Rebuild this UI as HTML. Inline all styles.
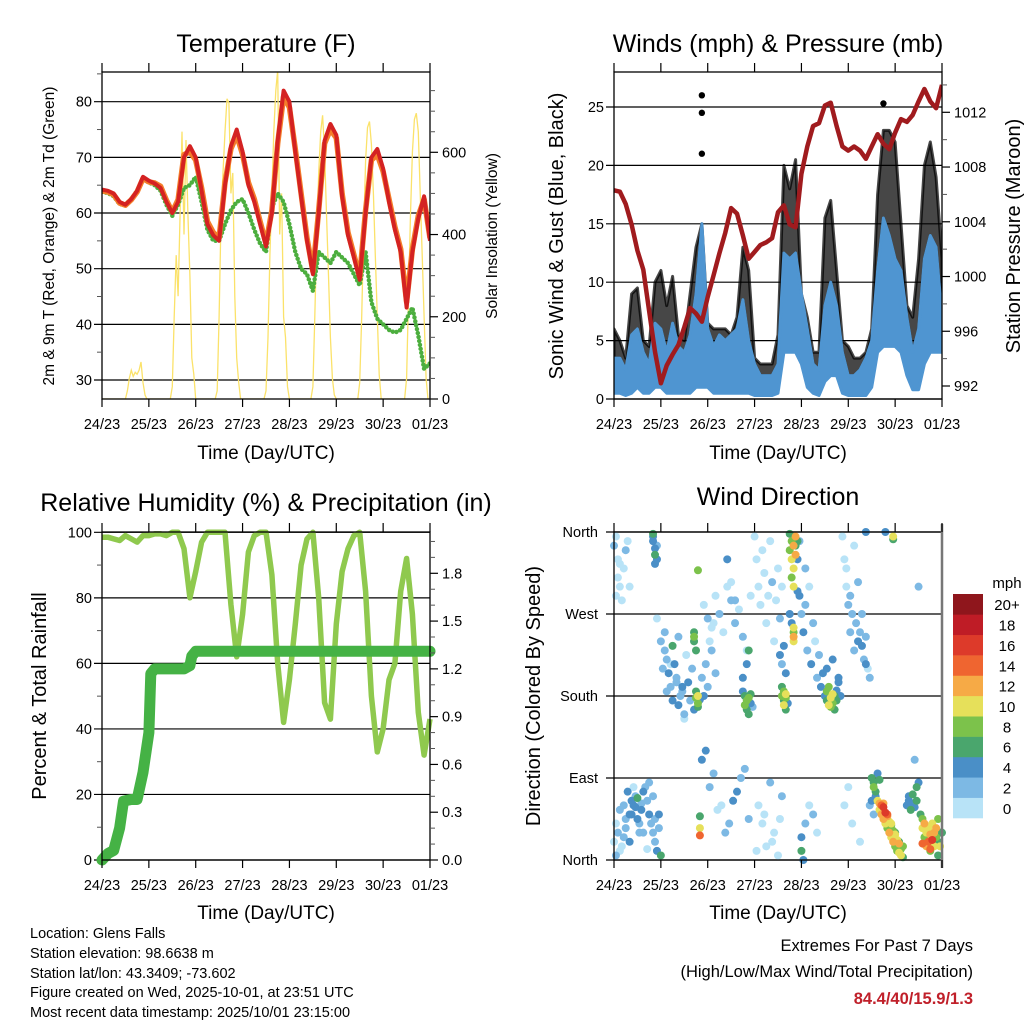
<!DOCTYPE html>
<html><head><meta charset="utf-8"><style>
html,body{margin:0;padding:0;background:#fff}
svg{display:block;font-family:"Liberation Sans",sans-serif}
</style></head><body>
<svg id="fig" width="1024" height="1024" viewBox="0 0 1024 1024" xmlns="http://www.w3.org/2000/svg">
<rect width="1024" height="1024" fill="#fff"/>
<g id="g-temp"></g>
<g id="g-wind"></g>
<g id="g-rh"></g>
<g id="g-dir"></g>
<text x="266" y="52" font-size="25" text-anchor="middle">Temperature (F)</text>
<text x="778" y="52" font-size="25" text-anchor="middle">Winds (mph) &amp; Pressure (mb)</text>
<text x="266" y="511" font-size="25" text-anchor="middle">Relative Humidity (%) &amp; Precipitation (in)</text>
<text x="778" y="505" font-size="25" text-anchor="middle">Wind Direction</text>
<text x="266" y="459" font-size="19" text-anchor="middle">Time (Day/UTC)</text>
<text x="778" y="459" font-size="19" text-anchor="middle">Time (Day/UTC)</text>
<text x="266" y="919" font-size="19" text-anchor="middle">Time (Day/UTC)</text>
<text x="778" y="919" font-size="19" text-anchor="middle">Time (Day/UTC)</text>
<text transform="translate(54,236) rotate(-90)" font-size="15.5" text-anchor="middle">2m &amp; 9m T (Red, Orange) &amp; 2m Td (Green)</text>
<text transform="translate(497,236) rotate(-90)" font-size="15.5" text-anchor="middle">Solar Insolation (Yellow)</text>
<text transform="translate(563,236) rotate(-90)" font-size="20" text-anchor="middle">Sonic Wind &amp; Gust (Blue, Black)</text>
<text transform="translate(1020,236) rotate(-90)" font-size="20" text-anchor="middle">Station Pressure (Maroon)</text>
<text transform="translate(46,696) rotate(-90)" font-size="20" text-anchor="middle">Percent &amp; Total Rainfall</text>
<text transform="translate(540,696) rotate(-90)" font-size="20" text-anchor="middle">Direction (Colored By Speed)</text>
<g font-size="14.5">
<text x="30" y="938">Location: Glens Falls</text>
<text x="30" y="958">Station elevation: 98.6638 m</text>
<text x="30" y="978">Station lat/lon: 43.3409; -73.602</text>
<text x="30" y="997">Figure created on Wed, 2025-10-01, at 23:51 UTC</text>
<text x="30" y="1017">Most recent data timestamp: 2025/10/01 23:15:00</text>
</g>
<g font-size="16.5" text-anchor="end">
<text x="973" y="951">Extremes For Past 7 Days</text>
<text x="973" y="977">(High/Low/Max Wind/Total Precipitation)</text>
<text x="973" y="1004" fill="#c0202a" font-weight="bold">84.4/40/15.9/1.3</text>
</g>
</svg>
<script>
// ---- data (3-hourly unless noted) ----
const hours3 = [0,3,6,9,12,15,18,21,24,27,30,33,36,39,42,45,48,51,54,57,60,63,66,69,72,75,78,81,84,87,90,93,96,99,102,105,108,111,114,117,120,123,126,129,132,135,138,141,144,147,150,153,156,159,162,165,168];
const tempRed = [64.2,64,63.5,62,61.5,62.5,64,66.5,65.8,65.3,64.5,62,60,62,70,72,70,64,58,56,55,65,72,75,71,65,62,58,54,60,73,82,80,71,63,55,49,60,73,76,74,63,56,52,48,60,70,71.5,68,62,57,53,43,53,59,63,55];
const tempOrange = [64,63.8,63.3,61.8,61.4,62.4,63.8,66.2,65.6,65.4,64.8,62.3,60.2,62.4,70.5,71,69.5,64.5,58.5,56.5,55.5,65.5,71.5,74,70.5,65.5,62.5,58.5,54.5,60.5,72.5,81,79,71.5,63.5,55.5,49.5,60.5,72.5,75,73.5,63.5,56.5,52.5,48.5,60.5,69.5,70.5,67.5,62.5,57.5,53.5,44,53.5,59.5,62.5,55.5];
const dewGreen = [63.8,63.6,63,61.6,61.5,62.5,64,66,65.5,65,64,61.5,59.5,61.5,64.5,65,66.5,62,57,55,55,58,60.5,62,62.5,60,57,54.5,53,61,63.5,62,58,53,50,49,46,53,52,51,53,52,51,49,47,53,44,41,40,39,38.5,39,41,43,38,32,33];
const solarHourly = [0,0,0,0,0,0,0,0,0,0,0,0,0,20,50,70,55,65,60,70,90,40,10,0,
0,0,0,0,0,0,0,0,0,0,0,0,30,200,350,250,450,650,400,630,450,300,100,60,0,
0,0,0,0,0,0,0,0,0,0,20,200,450,550,650,730,720,500,550,250,100,40,0,
0,0,0,0,0,0,0,0,0,0,0,0,20,150,350,500,650,750,800,400,500,200,150,30,0,
0,0,0,0,0,0,0,0,0,0,0,30,200,400,550,650,690,600,450,300,150,50,10,0,
0,0,0,0,0,0,0,0,0,0,0,40,200,400,580,660,675,620,500,350,200,60,0,
0,0,0,0,0,0,0,0,0,0,0,0,50,250,450,600,680,695,650,500,350,200,50,0,0];
const windLo = [0.5,0.5,0.3,0.5,1,0.5,0.5,1,1,0.5,0.5,0.5,0.5,0.5,1,1,1,0.5,0.5,0.5,0.5,0.5,0.5,0.5,0.3,0.3,0.3,0.3,0.5,4,4,4,3,1,0.5,0.3,1.5,2,2,0.5,0.3,0.3,0.3,0.3,1,4,4.5,4.5,4.5,4,2,0.8,0.8,3,4,4,4];
const windHi = [3.5,3.5,2.5,5.5,6,4,3,6.5,6,4,6.5,4.5,4,5.5,9,15,6,4.5,5.5,5,5.5,6,8.5,5,3,2,2,2,3,12.5,12,12.5,9,6,3,2.5,8,10,8,4,2,2,2.5,3.5,5,11,15.5,14,12,11,7,4,6,12,14,13,7];
const gustHi = [6,5,3.5,9,9.5,5,4.5,10,11,8,10.5,5.5,5,9,13,15,6.5,6,6,6,5.5,7,13,11,3.5,3,3,3,5.5,20,18,20.5,9,7,4,4,15.5,17,11,5,4.5,3.5,3.5,4,6,17.5,23,23,22,15,8,7,12,20,22,19,12];
const gustOutH = [45,45,45,138];
const gustOutV = [26,24.5,21,25.3];
const pressure = [1006.3,1006.2,1005.3,1003.8,1001.9,1000.5,997.5,994.5,992.2,993.5,994.3,995,996.3,997.7,997.3,996.7,998.5,1000.1,1001.7,1003.2,1005,1004.6,1003,1001.3,1001.8,1002.3,1002.5,1002.8,1004.7,1005.2,1003.8,1003.6,1007.5,1009.5,1011,1011.2,1012.5,1012.7,1011,1009.5,1009.2,1009.5,1009.2,1008.6,1009.5,1010.4,1009.7,1009.3,1010.5,1011.5,1011.3,1011.8,1012.8,1013.7,1012.8,1012.3,1014];
const rh = [98.5,98.5,98,97.5,99,98,97,99,99,99.5,99.5,99,100,100,95,80,88,97,100,100,100,100,78,62,75,94,99,100,100,87,60,42,55,72,90,98,100,80,48,43,72,88,95,99,100,82,50,33,40,55,60,82,92,75,45,32,43];
const precipH = [0,3,6,9,11,15,18,21,24,25,27,42,45,46,48,168];
const precipIn = [0,0.04,0.06,0.2,0.37,0.38,0.38,0.55,0.8,1.17,1.2,1.2,1.22,1.28,1.31,1.31];
const dirHour = [0,1,2,2,3,4,5,6,7,8,1,3,
0,1,1,2,3,4,5,6,7,8,9,10,11,12,13,14,15,16,17,18,19,20,21,22,23,24,3,6,9,12,15,18,21,5,8,11,14,17,20,23,10,13,
20,20,21,21,22,22,21,20,
22,24,25,26,27,28,29,30,31,32,33,34,35,36,37,38,39,40,41,45,46,47,48,49,50,51,52,27,30,33,36,26,29,32,35,
42,42,43,43,43,44,41,41,41,42,43,44,44,44,
46,48,50,52,54,56,58,60,62,64,66,68,70,47,51,55,59,63,67,45,49,53,57,61,65,69,58,60,62,
66,67,67,68,68,69,69,70,70,66,71,68,69,
72,73,74,75,76,77,78,79,80,81,82,83,84,85,86,74,76,78,80,82,84,86,73,77,81,85,
86,86,87,87,87,88,88,88,89,85,86,87,88,
90,90,91,91,91,92,92,92,93,93,93,94,94,90,91,92,92,92,92,94,
95,96,97,98,99,100,101,102,103,104,105,106,107,96,96,97,98,100,102,104,95,98,
108,109,109,110,110,111,111,112,112,113,113,114,114,115,116,109,112,115,
117,118,119,120,121,122,123,124,125,126,127,128,129,130,119,121,123,125,127,129,131,118,122,126,120,
132,133,133,134,134,132,131,133,135,136,129,
135,136,136,137,137,138,138,139,139,140,140,141,141,142,142,143,143,144,144,145,145,146,146,147,147,148,148,138,140,142,144,146,
150,151,152,153,154,155,151,153,155,156,154,156,
157,158,158,159,159,160,160,161,161,162,162,163,163,164,164,165,165,166,166,167,167,168,158,162,166,
139,143,143];
const dirDeg = [345,355,330,310,300,285,320,340,350,300,290,325,
20,5,40,30,55,15,60,45,75,50,65,60,70,45,40,55,30,80,65,50,40,70,20,10,35,5,10,35,50,68,75,85,45,25,20,58,62,12,30,50,80,30,
358,350,342,335,330,345,325,355,
265,240,210,230,220,205,190,235,215,200,170,180,190,160,225,195,175,210,165,200,180,215,190,240,230,260,205,185,175,245,155,250,215,195,185,
185,178,180,172,168,176,250,245,240,230,318,27,35,48,
280,265,255,290,270,250,300,285,260,275,245,230,290,120,95,60,40,75,100,110,80,55,30,65,90,45,330,305,285,
185,180,170,175,165,178,160,172,182,200,168,215,230,
355,330,300,280,340,315,260,290,350,305,240,285,320,265,300,60,40,15,85,30,5,70,10,50,20,45,
190,180,175,185,170,178,165,182,172,225,215,235,205,
358,340,350,330,310,345,320,300,355,335,345,350,330,270,260,255,245,240,250,295,
290,270,250,280,230,300,215,260,240,200,225,190,205,10,25,0,40,60,50,30,350,320,
180,175,185,170,190,178,168,182,172,180,165,186,175,195,180,210,220,200,
355,330,300,280,250,270,230,260,240,250,235,220,245,210,320,290,345,305,270,215,200,60,40,20,80,
90,85,80,75,70,65,60,50,95,88,360,
65,62,55,60,50,58,45,52,40,48,35,42,30,38,25,32,20,28,15,22,10,18,8,12,5,15,3,62,50,40,30,20,
60,65,55,62,58,65,70,72,80,85,110,300,
50,45,35,40,25,30,15,35,20,28,10,40,22,30,15,25,35,20,45,30,15,30,18,12,5,
360,355,352];
const dirSpd = [3,1,1,1,1,1,1,2,1,1,1,1,
1,2,1,2,2,1,3,2,4,4,5,4,3,4,2,4,3,2,3,4,2,3,2,4,3,6,1,2,4,6,4,2,3,3,4,4,3,1,2,4,1,2,
6,4,5,6,4,3,4,5,
1,2,3,2,3,4,3,6,5,2,4,3,4,2,1,4,3,2,4,3,4,2,3,1,2,1,2,3,4,2,1,3,1,2,3,
6,8,10,8,6,4,6,8,6,6,8,14,10,6,
1,2,1,1,2,1,1,2,3,1,2,1,1,4,3,1,2,4,3,4,3,1,2,4,3,2,4,1,2,
4,6,8,8,6,8,6,4,6,4,2,4,6,
1,1,1,0,1,1,1,0,1,2,1,1,1,2,1,1,0,1,2,1,1,2,1,1,0,1,
6,8,6,8,10,8,6,10,4,4,3,4,4,
6,8,8,10,8,12,10,10,12,12,6,6,4,4,4,10,12,10,8,4,
4,3,4,2,3,1,4,2,1,2,3,4,4,6,4,4,3,1,2,1,3,2,
4,6,8,10,8,10,8,10,8,6,6,4,6,4,4,4,4,4,
1,1,1,2,3,2,3,3,4,3,4,3,2,1,1,2,1,2,3,4,2,1,1,0,1,
6,6,8,6,4,4,2,2,4,6,4,
10,12,10,14,12,16,12,16,10,12,8,10,12,8,10,8,12,10,8,10,8,12,10,8,10,8,6,12,14,10,6,6,
4,4,6,4,4,6,4,6,6,4,2,2,
6,8,10,12,8,10,12,10,14,12,8,10,16,12,10,8,12,6,8,6,10,6,14,14,6,
4,10,6];
const dayLabels = ["24/23","25/23","26/23","27/23","28/23","29/23","30/23","01/23"];
const speedLevels = ["0","2","4","6","8","10","12","14","16","18","20+"];
const speedColors = ["#b8e3f7","#7db9e4","#4a8fc7","#4aa66d","#7cc24b","#e6e05a","#f6aa46","#ef6530","#dd3a2a","#bf1c26","#8f161c"];
const tempTicks = [30,40,50,60,70,80];
const solarTicks = [0,200,400,600];
const windTicks = [0,5,10,15,20,25];
const presTicks = [992,996,1000,1004,1008,1012];
const rhTicks = [0,20,40,60,80,100];
const precipTicks = ["0.0","0.3","0.6","0.9","1.2","1.5","1.8"];
const dirTicks = [0,90,180,270,360];
const dirNames = ["North","East","South","West","North"];

// ---- helpers ----
const NS = "http://www.w3.org/2000/svg";
function mk(tag, attrs, parent) {
  const el = document.createElementNS(NS, tag);
  for (const k in attrs) el.setAttribute(k, attrs[k]);
  parent.appendChild(el);
  return el;
}
function xs(p, h) { return p.x0 + h / 168 * (p.x1 - p.x0); }
function linScale(d0, d1, r0, r1) { return v => r0 + (v - d0) / (d1 - d0) * (r1 - r0); }

function frame(g, p, gridYs, clipId) {
  const defs = mk('defs', {}, g);
  const cp = mk('clipPath', {id: clipId}, defs);
  mk('rect', {x: p.x0, y: p.y0, width: p.x1 - p.x0, height: p.y1 - p.y0}, cp);
  gridYs.forEach(y => {
    const l = mk('line', {x1: p.x0 - 8, x2: p.x1, y1: y, y2: y, stroke: '#000', 'stroke-width': 1.2}, g);
    
    
  });
}
function box(g, p, greyRight) {
  const b = mk('rect', {x: p.x0, y: p.y0, width: p.x1 - p.x0, height: p.y1 - p.y0, fill: 'none', stroke: '#000', 'stroke-width': 1.3}, g);
  
  
  if (greyRight) mk('line', {x1: p.x1, x2: p.x1, y1: p.y0 - 8, y2: p.y1 + 8, stroke: '#777', 'stroke-width': 2.5}, g);
  for (let d = 0; d <= 7; d++) {
    const x = xs(p, d * 24);
    mk('line', {x1: x, x2: x, y1: p.y0 - 9, y2: p.y0, stroke: '#000', 'stroke-width': 1.2}, g);
    mk('line', {x1: x, x2: x, y1: p.y1, y2: p.y1 + 8, stroke: '#000', 'stroke-width': 1.2}, g);
    const t = mk('text', {x: x, y: p.y1 + 30, 'font-size': 14.5, 'text-anchor': 'middle'}, g);
    t.textContent = dayLabels[d];
    
    
  }
}
function yTicks(g, p, vals, labels, scale, side, minorVals) {
  vals.forEach((v, i) => {
    const y = scale(v);
    if (side === 'right') mk('line', {x1: p.x1, x2: p.x1 + 8, y1: y, y2: y, stroke: '#000', 'stroke-width': 1.2}, g);
    const t = mk('text', {x: side === 'left' ? p.x0 - 10 : p.x1 + 12, y: y + 5, 'font-size': 14.5, 'text-anchor': side === 'left' ? 'end' : 'start'}, g);
    t.textContent = labels[i];
    
    
  });
  (minorVals || []).forEach(v => {
    const y = scale(v);
    if (y < p.y0 - 1 || y > p.y1 + 1) return;
    if (side === 'left') mk('line', {x1: p.x0 - 5, x2: p.x0, y1: y, y2: y, stroke: '#555', 'stroke-width': 1}, g);
    else mk('line', {x1: p.x1, x2: p.x1 + 5, y1: y, y2: y, stroke: '#555', 'stroke-width': 1}, g);
  });
}
function pathFrom(xsArr, ysArr) {
  return xsArr.map((x, i) => (i ? 'L' : 'M') + x.toFixed(1) + ' ' + ysArr[i].toFixed(1)).join(' ');
}

// ---- Temperature panel ----
(function () {
  const g = document.getElementById('g-temp');
  const p = {x0: 102, x1: 430, y0: 72, y1: 399};
  const yT = linScale(30, 80, 380, 101.7);
  const yS = linScale(0, 600, 399, 152.3);
  frame(g, p, tempTicks.map(yT), 'clipT');
  const inner = mk('g', {'clip-path': 'url(#clipT)'}, g);
  const sx = solarHourly.map((v, i) => xs(p, i));
  const sol = mk('path', {d: pathFrom(sx, solarHourly.map(yS)), fill: 'none', stroke: '#fbe26a', 'stroke-width': 1.3}, inner);
  
  
  const hx = hours3.map(h => xs(p, h));
  const dp = mk('path', {d: pathFrom(hx, dewGreen.map(yT)), fill: 'none', stroke: '#4cae3e', 'stroke-width': 4.5, 'stroke-linecap': 'round', 'stroke-dasharray': '0 4'}, inner);
  
  
  const or = mk('path', {d: pathFrom(hx, tempOrange.map(yT)), fill: 'none', stroke: '#f47d2a', 'stroke-width': 5.5, 'stroke-linejoin': 'round'}, inner);
  
  
  const rd = mk('path', {d: pathFrom(hx, tempRed.map(yT)), fill: 'none', stroke: '#d42222', 'stroke-width': 4, 'stroke-linejoin': 'round'}, inner);
  
  
  box(g, p);
  yTicks(g, p, tempTicks, tempTicks.map(String), yT, 'left', [35, 45, 55, 65, 75, 85]);
  yTicks(g, p, solarTicks, solarTicks.map(String), yS, 'right', [50, 100, 150, 250, 300, 350, 450, 500, 550, 650, 700, 750]);
})();

// ---- Wind & Pressure panel ----
(function () {
  const g = document.getElementById('g-wind');
  const p = {x0: 614, x1: 942, y0: 72, y1: 399};
  const yW = linScale(0, 25, 399, 107);
  const yP = linScale(992, 1012, 386, 112.3);
  frame(g, p, windTicks.map(yW), 'clipW');
  const inner = mk('g', {'clip-path': 'url(#clipW)'}, g);
  const hx = hours3.map(h => xs(p, h));
  const gust = mk('path', {d: pathFrom(hx, gustHi.map(yW)) + ' ' + pathFrom(hx.slice().reverse(), windHi.map(yW).reverse()).replace('M', 'L') + ' Z', fill: '#000', 'fill-opacity': 0.72, stroke: '#000', 'stroke-opacity': 0.72, 'stroke-width': 3, 'stroke-linejoin': 'round'}, inner);
  
  
  gustOutH.forEach((h, i) => {
    const c = mk('circle', {cx: xs(p, h), cy: yW(gustOutV[i]), r: 3.2, fill: '#000'}, inner);
    
    
  });
  const band = mk('path', {d: pathFrom(hx, windHi.map(yW)) + ' ' + pathFrom(hx.slice().reverse(), windLo.map(yW).reverse()).replace('M', 'L') + ' Z', fill: '#4f95d1', stroke: '#4f95d1', 'stroke-width': 3, 'stroke-linejoin': 'round'}, inner);
  
  
  const pr = mk('path', {d: pathFrom(hx, pressure.map(yP)), fill: 'none', stroke: '#a01b1e', 'stroke-width': 4.5, 'stroke-linejoin': 'round'}, inner);
  
  
  box(g, p);
  yTicks(g, p, windTicks, windTicks.map(String), yW, 'left', []);
  yTicks(g, p, presTicks, presTicks.map(String), yP, 'right', [990, 994, 998, 1002, 1006, 1010, 1014]);
})();

// ---- RH & Precip panel ----
(function () {
  const g = document.getElementById('g-rh');
  const p = {x0: 102, x1: 430, y0: 532, y1: 860};
  const yR = linScale(0, 100, 860, 532.3);
  const yI = linScale(0, 1.8, 860, 573.3);
  frame(g, p, rhTicks.map(yR), 'clipR');
  const hx = hours3.map(h => xs(p, h));
  const rl = mk('path', {d: pathFrom(hx, rh.map(yR)), fill: 'none', stroke: '#8fc94e', 'stroke-width': 5.5, 'stroke-linejoin': 'round'}, g);
  
  
  const pl = mk('path', {d: pathFrom(precipH.map(h => xs(p, h)), precipIn.map(yI)), fill: 'none', stroke: '#45b245', 'stroke-width': 11, 'stroke-linecap': 'round', 'stroke-linejoin': 'round'}, g);
  
  
  box(g, p);
  yTicks(g, p, rhTicks, rhTicks.map(String), yR, 'left', [10, 30, 50, 70, 90]);
  yTicks(g, p, precipTicks.map(Number), precipTicks, yI, 'right', [0.1, 0.2, 0.4, 0.5, 0.7, 0.8, 1.0, 1.1, 1.3, 1.4, 1.6, 1.7, 1.9, 2.0]);
})();

// ---- Wind direction panel ----
(function () {
  const g = document.getElementById('g-dir');
  const p = {x0: 614, x1: 942, y0: 532, y1: 860};
  const yD = linScale(0, 360, 860, 532);
  frame(g, p, dirTicks.map(yD), 'clipD');
  const order = dirHour.map((h, i) => i).sort((a, b) => dirSpd[a] - dirSpd[b]);
  order.forEach(i => {
    const s = dirSpd[i];
    const ci = Math.min(10, Math.floor(s / 2));
    const c = mk('circle', {cx: xs(p, dirHour[i]), cy: yD(dirDeg[i]), r: 4, fill: speedColors[ci]}, g);
    
    
  });
  box(g, p, true);
  dirTicks.forEach((v, i) => {
    const t = mk('text', {x: p.x0 - 16, y: yD(v) + 5, 'font-size': 14.5, 'text-anchor': 'end'}, g);
    t.textContent = dirNames[i];
    
    
  });
  const cb = mk('g', {}, g);
  
  
  const top = 594, bot = 818, n = speedLevels.length, hgt = (bot - top) / n;
  speedLevels.forEach((lab, i) => {
    const y = bot - (i + 1) * hgt;
    const r = mk('rect', {x: 953, y: y, width: 30, height: hgt + 0.3, fill: speedColors[i]}, cb);
    
    
    const t = mk('text', {x: 1007, y: y + hgt / 2 + 6, 'font-size': 15, 'text-anchor': 'middle'}, cb);
    t.textContent = lab;
    
    
  });
  const m = mk('text', {x: 1007, y: 588, 'font-size': 15, 'text-anchor': 'middle'}, cb);
  m.textContent = 'mph';
  
  
})();
</script>
</body></html>
